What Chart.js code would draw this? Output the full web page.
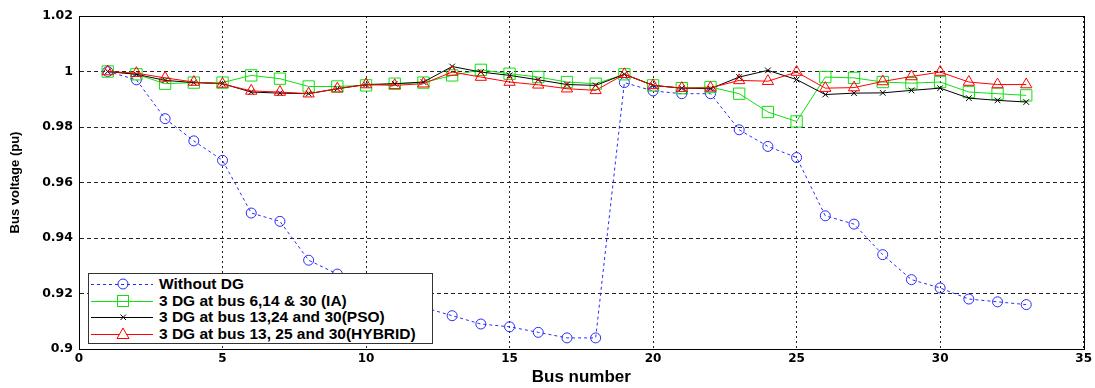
<!DOCTYPE html>
<html>
<head>
<meta charset="utf-8">
<script src="https://cdn.jsdelivr.net/npm/chart.js@4/dist/chart.umd.min.js"></script>
<style>
  html, body { margin: 0; padding: 0; background: #fff; }
  #wrap { position: relative; width: 1095px; height: 388px; }
  #legend {
    position: absolute; left: 88px; top: 273px; width: 345px; height: 71px;
    border: 1px solid #333; background: #fff; box-sizing: border-box;
    font-family: "Liberation Sans", Arial, sans-serif; font-weight: bold; font-size: 15.5px; color: #000;
  }
  .row { position: absolute; left: 0; height: 16px; display: flex; align-items: center; white-space: nowrap; }
  .row svg { margin-left: 1px; margin-right: 5px; }
</style>
</head>
<body>
<div id="wrap">
  <canvas id="c" width="1095" height="388"></canvas>
  <div id="legend"></div>
</div>
<script>
const buses = [1,2,3,4,5,6,7,8,9,10,11,12,13,14,15,16,17,18,19,20,21,22,23,24,25,26,27,28,29,30,31,32,33];

const withoutDG = [1.000,0.997,0.983,0.975,0.968,0.949,0.946,0.932,0.927,0.922,0.918,0.915,0.912,0.909,0.908,0.906,0.904,0.904,0.996,0.993,0.992,0.992,0.979,0.973,0.969,0.948,0.945,0.934,0.925,0.922,0.918,0.917,0.916];

const dgIA = [1.000,0.999,0.9956,0.996,0.996,0.9986,0.9974,0.9946,0.9946,0.995,0.9956,0.996,0.9986,1.0006,0.9992,0.998,0.9962,0.9956,0.999,0.995,0.994,0.9944,0.992,0.9854,0.982,0.998,0.9977,0.9962,0.9958,0.9962,0.9926,0.992,0.9914];

const dgPSO = [1.000,0.999,0.9968,0.996,0.9956,0.9926,0.9922,0.992,0.9938,0.9953,0.9956,0.9962,1.0018,0.9998,0.9986,0.997,0.9953,0.995,0.999,0.995,0.994,0.9938,0.998,1.0004,0.9971,0.9917,0.9922,0.9923,0.9932,0.994,0.9904,0.9896,0.989];

const dgHybrid = [1.000,0.9994,0.9977,0.9962,0.9955,0.993,0.9926,0.992,0.9938,0.9953,0.995,0.9956,0.9998,0.998,0.9962,0.9952,0.9938,0.9932,0.999,0.995,0.994,0.9941,0.9968,0.9965,0.9998,0.994,0.9942,0.9964,0.9982,0.9998,0.9962,0.9953,0.9953];

const seriesNames = [
  "Without DG",
  "3 DG at bus 6,14 & 30 (IA)",
  "3 DG at bus 13,24 and 30(PSO)",
  "3 DG at bus 13, 25 and 30(HYBRID)"
];

const yTicks = [0.9, 0.92, 0.94, 0.96, 0.98, 1, 1.02];
const xTicks = [0, 5, 10, 15, 20, 25, 30, 35];

const toPts = vals => buses.map((b, i) => ({x: b, y: vals[i]}));

const styles = [
  {color: '#2a2aff', dash: [3, 3], point: 'circle', r: 5, order: 4},
  {color: '#10e010', dash: [], point: 'rect', r: 8, order: 3},
  {color: '#000000', dash: [], point: 'crossRot', r: 4, order: 2},
  {color: '#ff0000', dash: [], point: 'triangle', r: 6.5, order: 1}
];
const allVals = [withoutDG, dgIA, dgPSO, dgHybrid];

const datasets = allVals.map((v, i) => ({
  label: seriesNames[i],
  data: toPts(v),
  borderColor: styles[i].color,
  backgroundColor: 'rgba(0,0,0,0)',
  borderWidth: 1,
  borderDash: styles[i].dash,
  pointStyle: styles[i].point,
  pointRadius: styles[i].r,
  pointBorderWidth: 1,
  pointBorderColor: styles[i].color,
  pointBackgroundColor: 'rgba(0,0,0,0)',
  tension: 0,
  order: styles[i].order
}));

const frame = {
  id: 'frame',
  afterDraw(chart) {
    const {ctx, chartArea: a} = chart;
    ctx.save();
    ctx.strokeStyle = '#000';
    ctx.lineWidth = 1;
    ctx.setLineDash([]);
    ctx.strokeRect(Math.round(a.left) + 0.5, Math.round(a.top) + 0.5, Math.round(a.right - a.left), Math.round(a.bottom - a.top));
    ctx.restore();
  }
};

const tickFont = {family: '"DejaVu Sans", sans-serif', size: 12.5, weight: 'bold'};

new Chart(document.getElementById('c'), {
  type: 'line',
  data: {datasets},
  plugins: [frame],
  options: {
    responsive: false,
    animation: false,
    events: [],
    layout: {padding: {left: 0, right: 8, top: 16, bottom: 0}},
    plugins: {legend: {display: false}, tooltip: {enabled: false}},
    scales: {
      x: {
        type: 'linear', min: 0, max: 35,
        afterBuildTicks: s => { s.ticks = xTicks.map(v => ({value: v})); },
        afterFit: s => { s.height = 39; },
        ticks: {color: '#000', font: {family: '"DejaVu Sans", sans-serif', size: 12, weight: 'bold'}, padding: 3, maxRotation: 0},
        grid: {color: '#222', lineWidth: 1, drawTicks: false},
        border: {display: true, color: '#000', dash: [2, 3]},
        title: {display: true, text: 'Bus number', color: '#000', font: {family: '"Liberation Sans", Arial, sans-serif', size: 17, weight: 'bold'}, padding: {top: 0, bottom: 0}}
      },
      y: {
        type: 'linear', min: 0.9, max: 1.02,
        afterBuildTicks: s => { s.ticks = yTicks.map(v => ({value: v})); },
        afterFit: s => { s.width = 79; },
        ticks: {color: '#000', font: tickFont, padding: 6, callback: v => String(Number(v.toFixed(2)))},
        grid: {color: '#222', lineWidth: 1, drawTicks: false},
        border: {display: true, color: '#000', dash: [4, 3]},
        title: {display: true, text: 'Bus voltage (pu)', color: '#000', font: {family: '"Liberation Sans", Arial, sans-serif', size: 13, weight: 'bold'}, padding: {top: 8, bottom: 0}}
      }
    }
  }
});

// HTML legend built from the datasets
const leg = document.getElementById('legend');
const rowTops = [1.5, 18.5, 35, 51.5];
datasets.forEach((d, i) => {
  const row = document.createElement('div');
  row.className = 'row';
  row.style.top = rowTops[i] + 'px';
  const s = styles[i];
  let marker = '';
  if (s.point === 'circle') marker = `<circle cx="33" cy="8" r="5" fill="none" stroke="${s.color}" stroke-width="1"/>`;
  if (s.point === 'rect') marker = `<rect x="27.5" y="2.5" width="11" height="11" fill="none" stroke="${s.color}" stroke-width="1"/>`;
  if (s.point === 'crossRot') marker = `<path d="M30.5 5.5 L36 11 M36 5.5 L30.5 11" stroke="${s.color}" stroke-width="1"/>`;
  if (s.point === 'triangle') marker = `<path d="M33 2 L39 12.5 L27 12.5 Z" fill="#fff" stroke="${s.color}" stroke-width="1"/>`;
  row.innerHTML = `<svg width="64" height="16"><line x1="1" y1="8.5" x2="63" y2="8.5" stroke="${s.color}" stroke-width="1" ${s.dash.length ? 'stroke-dasharray="3,3"' : ''}/>${marker}</svg><span>${d.label}</span>`;
  leg.appendChild(row);
});
</script>
</body>
</html>
